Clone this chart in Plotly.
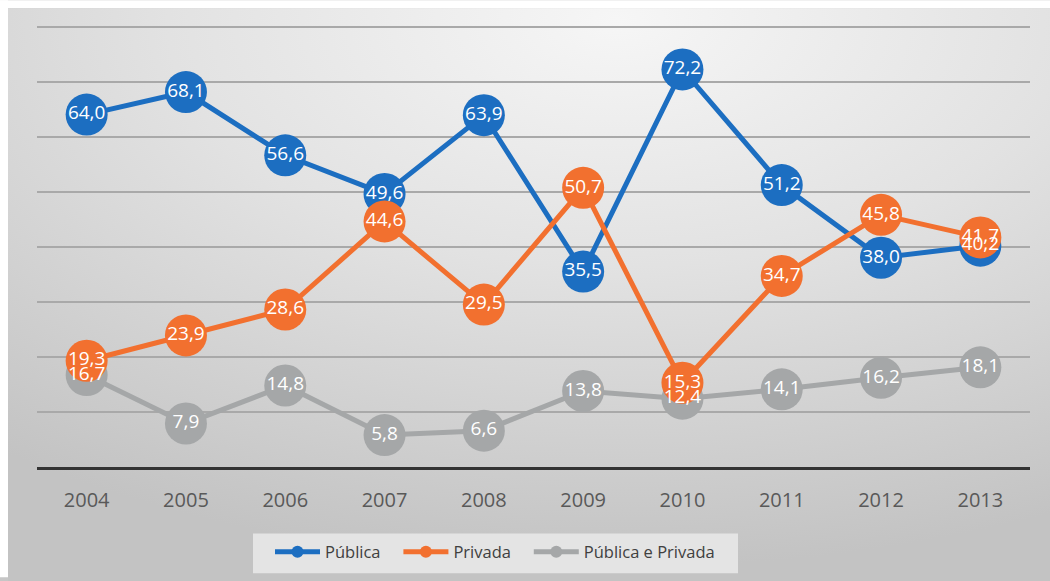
import base64
import plotly.graph_objects as go

years = ["2004", "2005", "2006", "2007", "2008", "2009", "2010", "2011", "2012", "2013"]
publica = [64.0, 68.1, 56.6, 49.6, 63.9, 35.5, 72.2, 51.2, 38.0, 40.2]
privada = [19.3, 23.9, 28.6, 44.6, 29.5, 50.7, 15.3, 34.7, 45.8, 41.7]
pub_priv = [16.7, 7.9, 14.8, 5.8, 6.6, 13.8, 12.4, 14.1, 16.2, 18.1]

series = [
    ("Pública e Privada", pub_priv, "#a5a7a8"),
    ("Pública", publica, "#1c6ec1"),
    ("Privada", privada, "#f2702f"),
]
legend_rank = {"Pública": 1, "Privada": 2, "Pública e Privada": 3}
legend_pad = {"Pública": "\u00a0\u00a0\u00a0", "Privada": "\u00a0\u00a0\u00a0", "Pública e Privada": ""}

def fmt(v):
    return f"{v:.1f}".replace(".", ",")

W, H = 1050, 581
L, R, T, B = 37, 20, 21, 111
PW, PH = W - L - R, H - T - B

svg = """<svg xmlns='http://www.w3.org/2000/svg' width='1050' height='581' preserveAspectRatio='none'>
<defs><radialGradient id='g' cx='0.58' cy='0.02' r='0.95' fx='0.58' fy='0.02'>
<stop offset='0' stop-color='#f6f6f6'/>
<stop offset='0.45' stop-color='#e2e2e2'/>
<stop offset='1' stop-color='#c3c3c3'/>
</radialGradient></defs>
<rect x='0' y='0' width='1050' height='581' fill='url(#g)'/>
</svg>"""
src = "data:image/svg+xml;base64," + base64.b64encode(svg.encode()).decode()

fig = go.Figure()
# lines + markers
for name, vals, color in series:
    fig.add_trace(go.Scatter(
        x=years, y=vals, name=name + legend_pad[name],
        mode="lines+markers",
        line=dict(color=color, width=5),
        marker=dict(color=color, size=42, line=dict(width=0)),
        legendrank=legend_rank[name],
        cliponaxis=False,
        hoverinfo="skip",
    ))
# data labels drawn above all markers
for name, vals, color in series:
    fig.add_trace(go.Scatter(
        x=years, y=vals, name=name + " labels",
        mode="text",
        text=[fmt(v) for v in vals],
        textposition="middle center",
        textfont=dict(color="white", size=19, family="Open Sans"),
        showlegend=False,
        cliponaxis=False,
        hoverinfo="skip",
    ))

def px_x(x):
    return (x - L) / PW

def px_y(y):
    return (H - B - y) / PH

fig.update_layout(
    width=W, height=H,
    margin=dict(l=L, r=R, t=T, b=B),
    paper_bgcolor="#c6c6c6",
    plot_bgcolor="rgba(0,0,0,0)",
    images=[dict(source=src, xref="paper", yref="paper",
                 x=px_x(8), y=px_y(8), sizex=1050 / PW, sizey=581 / PH,
                 xanchor="left", yanchor="top", sizing="stretch", layer="below")],
    shapes=[
        dict(type="rect", xref="paper", yref="paper",
             x0=px_x(253), x1=px_x(738), y0=px_y(577), y1=px_y(537),
             fillcolor="#e4e4e4", line=dict(width=0), layer="below"),
        dict(type="rect", xref="paper", yref="paper",
             x0=px_x(0), x1=px_x(8), y0=px_y(581), y1=px_y(0),
             fillcolor="white", line=dict(width=0), layer="below"),
        dict(type="rect", xref="paper", yref="paper",
             x0=px_x(0), x1=px_x(1050), y0=px_y(8), y1=px_y(0),
             fillcolor="white", line=dict(width=0), layer="below"),
    ],
    xaxis=dict(type="category", range=[-0.5, 9.5], showgrid=False,
               showline=True, linecolor="#333333", linewidth=3,
               ticks="", tickfont=dict(size=20, color="#595959", family="Open Sans"),
               ticklabelstandoff=13, zeroline=False),
    yaxis=dict(range=[0, 81], tickvals=[10, 20, 30, 40, 50, 60, 70, 80],
               showticklabels=False, showgrid=True,
               gridcolor="#a9a9a9", gridwidth=1.5, zeroline=False, showline=False),
    showlegend=True,
    legend=dict(orientation="h", x=px_x(495), xanchor="center", y=px_y(538), yanchor="top",
                bgcolor="rgba(0,0,0,0)", font=dict(size=16.5, color="#404040", family="Open Sans"),
                itemsizing="constant", itemwidth=45, traceorder="normal"),
)

fig.write_html("out.html", config={"displayModeBar": False},
               post_script="document.body.style.margin='0';document.body.style.overflow='hidden';")
